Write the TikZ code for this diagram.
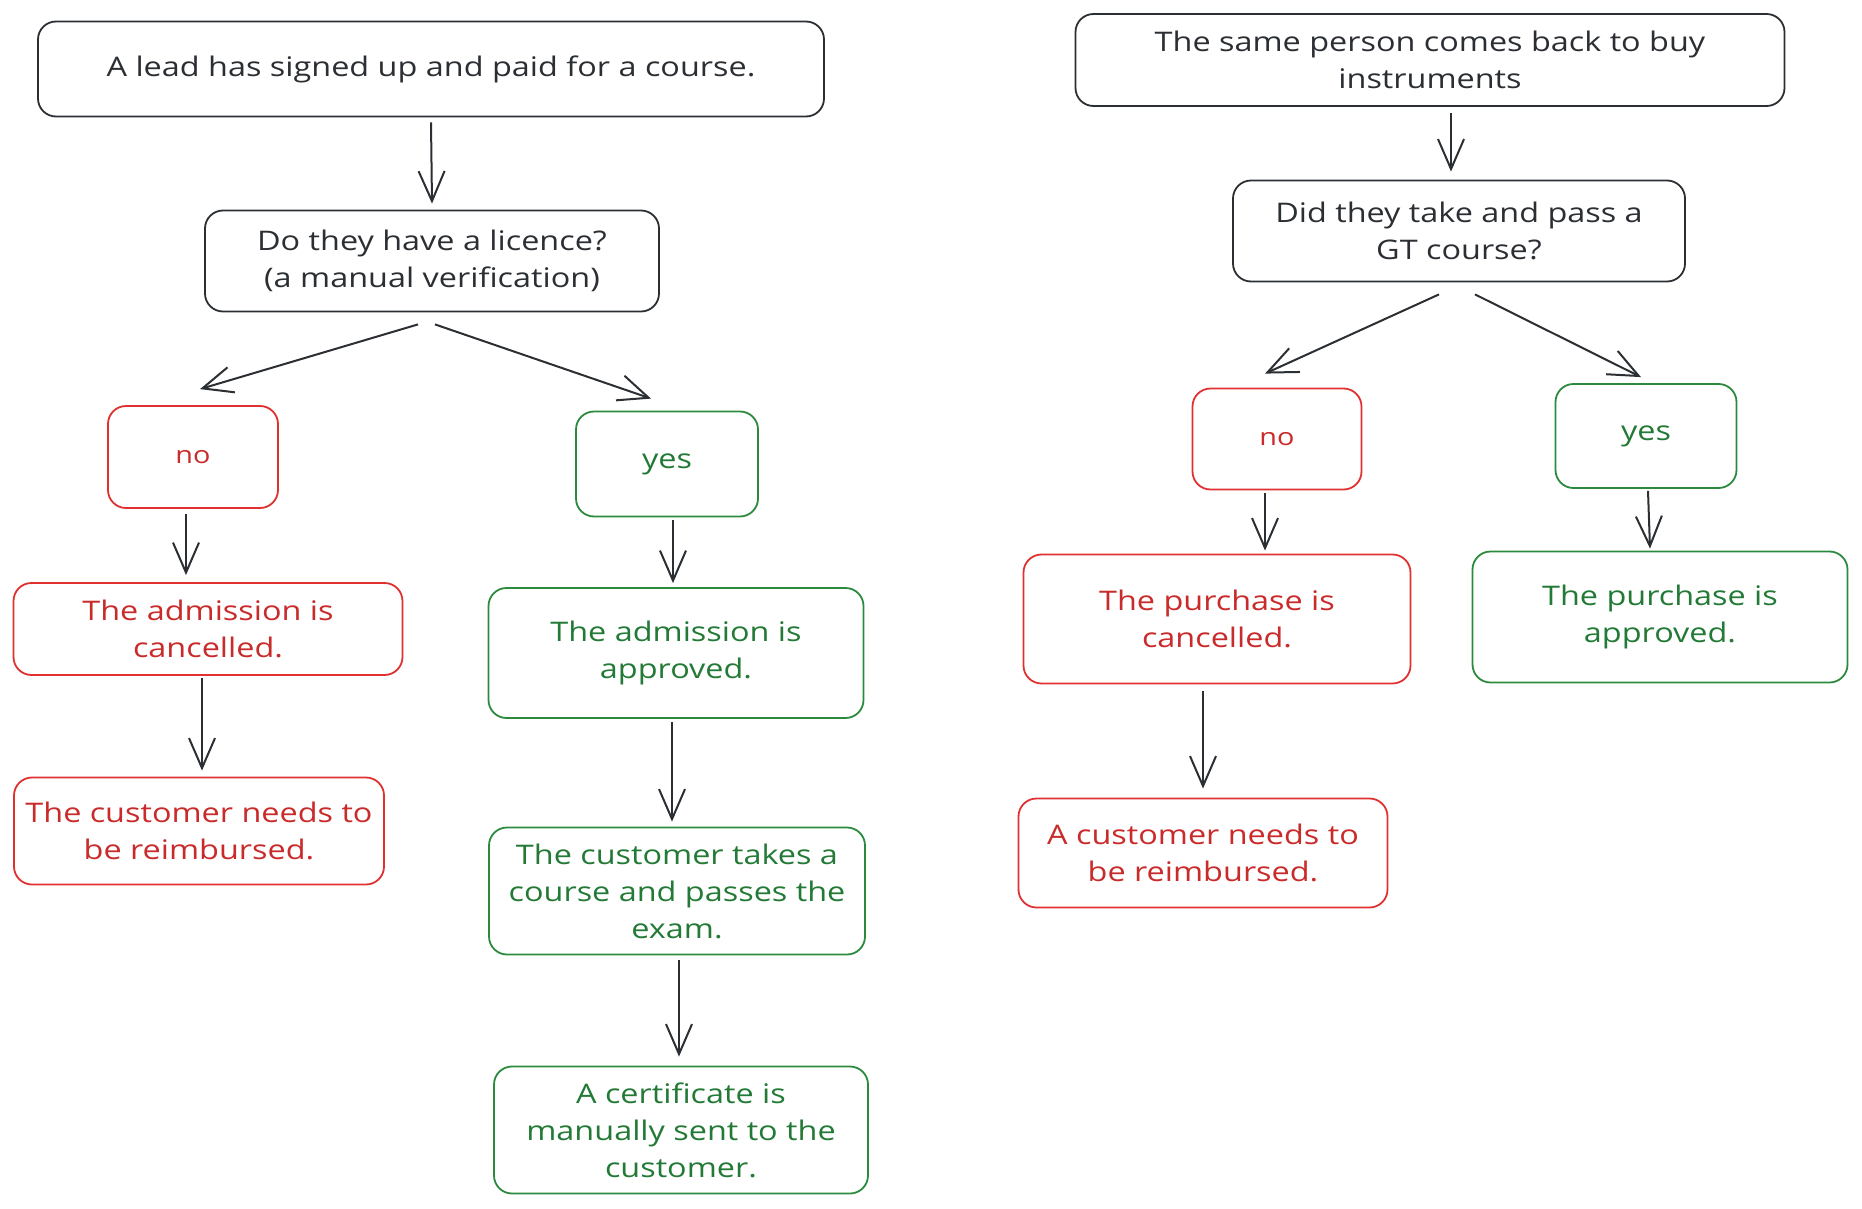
\documentclass[tikz,border=0pt]{standalone}
\usepackage{fontspec}
\setmainfont{Open Sans}[FakeStretch=1.2]
\usepackage{tikz}
\usetikzlibrary{arrows.meta,calc}
\definecolor{inkdark}{HTML}{2B2F33}
\definecolor{nored}{HTML}{E03131}
\definecolor{noredtext}{HTML}{C92A2A}
\definecolor{yesgreen}{HTML}{2B8A3E}
\definecolor{yesgreentext}{HTML}{237A36}
\tikzset{
  flowarrow/.style={-{Straight Barb[length=30pt,width=26pt,line width=2pt]}, line width=2pt, draw=inkdark},
  plainbox/.style={draw=inkdark, line width=1.8pt, rounded corners=18pt, align=center, text=inkdark, inner sep=0pt, font=\fontsize{27}{37}\selectfont},
  nobox/.style={plainbox, draw=nored, text=noredtext},
  yesbox/.style={plainbox, draw=yesgreen, text=yesgreentext}
}

\begin{document}
\begin{tikzpicture}[x=1pt, y=-1pt]
  \useasboundingbox (0,0) rectangle (1862,1209);
  % left: course
  \node[plainbox, minimum width=786pt, minimum height=95pt] (lead) at (431,69) {A lead has signed up and paid for a course.};
  \node[plainbox, minimum width=454pt, minimum height=101pt] (lic) at (432,261) {Do they have a licence?\\(a manual verification)};
  \node[nobox, minimum width=170pt, minimum height=102pt, font=\fontsize{24}{32}\selectfont] (no1) at (193,457) {no};
  \node[yesbox, minimum width=182pt, minimum height=105pt] (yes1) at (667,464) {yes};
  \node[nobox, minimum width=389pt, minimum height=92pt] (cancel1) at (208,629) {The admission is\\cancelled.};
  \node[nobox, minimum width=370pt, minimum height=107pt] (refund1) at (199,831) {The customer needs to\\be reimbursed.};
  \node[yesbox, minimum width=375pt, minimum height=130pt] (approve1) at (676,653) {The admission is\\approved.};
  \node[yesbox, minimum width=376pt, minimum height=127pt] (exam) at (677,891) {The customer takes a\\course and passes the\\exam.};
  \node[yesbox, minimum width=374pt, minimum height=127pt] (cert) at (681,1130) {A certificate is\\manually sent to the\\customer.};

  \draw[flowarrow] ([yshift=-5pt]lead.south) -- ([yshift=6pt]lic.north);
  \draw[flowarrow] ([xshift=-14pt,yshift=-12pt]lic.south) -- ([xshift=7pt,yshift=16pt]no1.north);
  \draw[flowarrow] ([xshift=3pt,yshift=-12pt]lic.south) -- ([xshift=-16pt,yshift=12pt]yes1.north);
  \draw[flowarrow] ([xshift=-7pt,yshift=-5pt]no1.south) -- ([xshift=-22pt,yshift=7pt]cancel1.north);
  \draw[flowarrow] ([xshift=-6pt,yshift=-2pt]cancel1.south) -- ([xshift=3pt,yshift=6pt]refund1.north);
  \draw[flowarrow] ([xshift=6pt,yshift=-3pt]yes1.south) -- ([xshift=-3pt,yshift=4pt]approve1.north);
  \draw[flowarrow] ([xshift=-4pt,yshift=-3pt]approve1.south) -- ([xshift=-5pt,yshift=5pt]exam.north);
  \draw[flowarrow] ([xshift=2pt,yshift=-5pt]exam.south) -- ([xshift=-2pt,yshift=9pt]cert.north);

  % right: instruments
  \node[plainbox, minimum width=709pt, minimum height=92pt] (back) at (1430,60) {The same person comes back to buy\\instruments};
  \node[plainbox, minimum width=452pt, minimum height=101pt] (gt) at (1459,231) {Did they take and pass a\\GT course?};
  \node[nobox, minimum width=169pt, minimum height=101pt, font=\fontsize{24}{32}\selectfont] (no2) at (1277,439) {no};
  \node[yesbox, minimum width=181pt, minimum height=104pt] (yes2) at (1646,436) {yes};
  \node[nobox, minimum width=387pt, minimum height=129pt] (cancel2) at (1217,619) {The purchase is\\cancelled.};
  \node[nobox, minimum width=369pt, minimum height=109pt] (refund2) at (1203,853) {A customer needs to\\be reimbursed.};
  \node[yesbox, minimum width=375pt, minimum height=131pt] (approve2) at (1660,617) {The purchase is\\approved.};

  \draw[flowarrow] ([xshift=21pt,yshift=-6pt]back.south) -- ([xshift=-8pt,yshift=8pt]gt.north);
  \draw[flowarrow] ([xshift=-20pt,yshift=-12pt]gt.south) -- ([xshift=-12pt,yshift=14pt]no2.north);
  \draw[flowarrow] ([xshift=16pt,yshift=-12pt]gt.south) -- ([xshift=-5pt,yshift=6pt]yes2.north);
  \draw[flowarrow] ([xshift=-12pt,yshift=-3pt]no2.south) -- ([xshift=48pt,yshift=3pt]cancel2.north);
  \draw[flowarrow] ([xshift=2pt,yshift=-2pt]yes2.south) -- ([xshift=-10pt,yshift=2pt]approve2.north);
  \draw[flowarrow] ([xshift=-14pt,yshift=-7pt]cancel2.south) -- ([yshift=9pt]refund2.north);
\end{tikzpicture}
\end{document}
